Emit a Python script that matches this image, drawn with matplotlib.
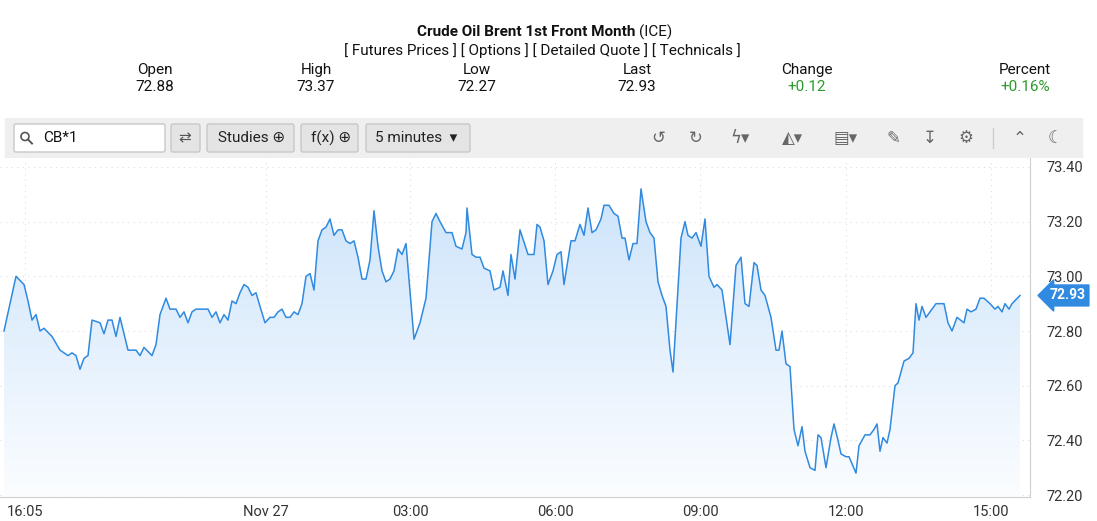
import matplotlib
matplotlib.use("Agg")
import matplotlib.pyplot as plt
import numpy as np
from matplotlib.patches import FancyBboxPatch, Polygon, Circle

title_bold = "Crude Oil Brent 1st Front Month"
links = "[ Futures Prices ] [ Options ] [ Detailed Quote ] [ Technicals ]"
stat_labels = ["Open", "High", "Low", "Last", "Change", "Percent"]
stat_values = ["72.88", "73.37", "72.27", "72.93", "+0.12", "+0.16%"]

xpos = [4,16,24,28,32,36,40,44,52,60,68,72,76,80,84,88,92,100,104,108,112,116,120,128,136,140,144,152,156,160,166,170,176,180,184,188,192,196,200,208,212,216,220,224,228,232,236,240,244,248,252,256,260,265,270,274,278,282,286,290,294,298,302,306,310,314,318,322,326,330,334,338,342,346,350,354,358,362,366,370,374,378,382,386,390,394,398,402,406,414,420,426,432,436,440,446,452,456,462,466,467,472,476,480,484,490,494,
        500,503,508,511,515,520,528,531,534,537,540,544,548,553,557,561,564,571,575,580,584,588,592,596,601,604,609,614,618,622,625,629,633,637,641,646,650,654,658,662,666,670,673,678,681,685,688,692,696,701,705,709,714,717,722,726,730,736,741,745,749,754,757,761,765,771,776,779,782,786,790,794,798,802,805,810,815,818,821,826,831,834,838,841,846,849,856,859,865,870,874,877,880,883,887,890,895,898,904,909,913,916,919,922,926,936,941,944,948,952,957,964,967,971,976,980,984,990,995,998,1002,1005,1009,1012,1020]
price = [72.80,73.00,72.97,72.91,72.84,72.86,72.80,72.81,72.78,72.73,72.71,72.72,72.71,72.66,72.70,72.71,72.84,72.83,72.79,72.84,72.84,72.78,72.85,72.73,72.73,72.71,72.74,72.71,72.75,72.86,72.92,72.88,72.88,72.85,72.87,72.83,72.87,72.88,72.88,72.88,72.85,72.87,72.83,72.86,72.84,72.91,72.90,72.94,72.97,72.96,72.93,72.94,72.89,72.83,72.85,72.85,72.87,72.88,72.85,72.85,72.87,72.86,72.90,73.00,73.01,72.95,73.13,73.17,73.18,73.21,73.15,73.17,73.17,73.13,73.12,73.13,73.07,72.99,72.99,73.06,73.24,73.11,73.02,72.98,72.99,73.02,73.10,73.08,73.12,72.77,72.83,72.92,73.20,73.23,73.20,73.16,73.16,73.11,73.10,73.16,73.25,73.08,73.07,73.07,73.03,73.02,72.95,
         72.96,73.02,72.93,73.08,72.99,73.17,73.08,73.08,73.08,73.19,73.18,73.13,72.97,73.02,73.08,73.09,72.97,73.13,73.13,73.19,73.15,73.25,73.16,73.17,73.21,73.26,73.26,73.23,73.22,73.14,73.14,73.06,73.12,73.12,73.32,73.20,73.16,73.14,72.98,72.93,72.89,72.73,72.65,72.96,73.14,73.20,73.15,73.14,73.16,73.11,73.21,73.00,72.96,72.97,72.95,72.85,72.75,73.04,73.07,72.90,72.89,73.05,73.04,72.95,72.93,72.85,72.73,72.73,72.80,72.68,72.67,72.44,72.38,72.45,72.36,72.30,72.29,72.42,72.41,72.30,72.41,72.46,72.40,72.35,72.34,72.34,72.28,72.38,72.42,72.42,72.44,72.46,72.36,72.41,72.39,72.44,72.60,72.61,72.69,72.70,72.72,72.90,72.84,72.89,72.85,72.90,72.90,72.90,72.83,72.80,72.85,72.83,72.88,72.87,72.88,72.92,72.92,72.90,72.88,72.89,72.87,72.90,72.88,72.90,72.93]
xtick_pos = [25, 266, 410, 555, 700, 846, 991]
xtick_labels = ["16:05", "Nov 27", "03:00", "06:00", "09:00", "12:00", "15:00"]
yticks = [72.20, 72.40, 72.60, 72.80, 73.00, 73.20, 73.40]
last_price = 72.93

W, H = 1097, 521
fig = plt.figure(figsize=(W/100, H/100), dpi=100)
plt.rcParams['font.family'] = ['Roboto', 'DejaVu Sans']

def fx(px): return px / W
def fy(py): return 1 - py / H

# Header
fig.text(fx(635), fy(32), title_bold, ha='right', va='center', fontsize=11, fontweight='bold', color='#111')
fig.text(fx(639), fy(32), "(ICE)", ha='left', va='center', fontsize=11, color='#111')
fig.text(fx(542), fy(51), links, ha='center', va='center', fontsize=11, color='#111')
col_x = [155, 316, 477, 637, 807, 1025]
for i, (lab, val) in enumerate(zip(stat_labels, stat_values)):
    fig.text(fx(col_x[i]), fy(70), lab, ha='center', va='center', fontsize=11, color='#111')
    c = '#2a9b2a' if i >= 4 else '#111'
    fig.text(fx(col_x[i]), fy(87), val, ha='center', va='center', fontsize=11, color=c)

# Toolbar
bg = fig.add_axes([0, fy(158), 1, (158-118)/H])
bg.set_xlim(0, W); bg.set_ylim(158, 118); bg.axis('off')
bg.add_patch(plt.Rectangle((5, 118), 1077, 40, color='#efefef'))
def button(x0, x1, white=False):
    bg.add_patch(FancyBboxPatch((x0, 124), x1-x0, 28, boxstyle='round,pad=0,rounding_size=2',
                                fc='white' if white else '#e4e4e4', ec='#c8c8c8', lw=1))
button(14, 165, True)
bg.text(43, 138, "CB*1", va='center', fontsize=11, color='#111')
bg.add_patch(Circle((25, 136.5), 4, fill=False, ec='#555', lw=1.2))
bg.plot([28, 32], [139.5, 143.5], color='#555', lw=1.4)
button(171, 200)
bg.text(185, 138, "⇄", ha='center', va='center', fontsize=11, color='#555', family=['DejaVu Sans'])
button(207, 294)
bg.text(218, 138, "Studies ⊕", va='center', fontsize=11, color='#222')
button(301, 358)
bg.text(311, 138, "f(x) ⊕", va='center', fontsize=11, color='#222')
button(366, 470)
bg.text(375, 138, "5 minutes  ▾", va='center', fontsize=11, color='#222')
for xi, s in zip([658, 696, 740, 793, 846, 893, 929, 966, 1020, 1055],
                 ["↺", "↻", "ϟ▾", "◭▾", "▤▾", "✎", "↧", "⚙", "⌃", "☾"]):
    bg.text(xi, 138, s, ha='center', va='center', fontsize=12, color='#666', family=['DejaVu Sans'])
bg.plot([993, 993], [128, 148], color='#ccc', lw=1)

# Chart
ax_top, ax_bot, ax_right = 158, 497, 1030
ax = fig.add_axes([0, fy(ax_bot), fx(ax_right), (ax_bot-ax_top)/H])
ytop = 73.40 + (167-ax_top)*1.2/328
ybot = 72.20 - (ax_bot-495)*1.2/328
ax.set_xlim(0, ax_right); ax.set_ylim(ybot, ytop)
for y in yticks:
    ax.axhline(y, color='#dcdcdc', lw=0.8, ls=(0, (1, 4)), zorder=0)
for x in xtick_pos:
    ax.axvline(x, color='#dcdcdc', lw=0.8, ls=(0, (1, 4)), zorder=0)

grad = np.linspace(0, 1, 256).reshape(-1, 1)
from matplotlib.colors import LinearSegmentedColormap
cmap = LinearSegmentedColormap.from_list('g', ['#fbfdff', '#cde4fb'])
im = ax.imshow(grad, cmap=cmap, aspect='auto', origin='lower',
               extent=[0, ax_right, ybot, max(price)], zorder=1)
poly = Polygon(list(zip([xpos[0]] + xpos + [xpos[-1]], [ybot] + price + [ybot])),
               closed=True, fc='none', ec='none')
ax.add_patch(poly)
im.set_clip_path(poly)
ax.plot(xpos, price, color='#2f8ae0', lw=1.1, zorder=3)

ax.set_xticks(xtick_pos); ax.set_xticklabels(xtick_labels)
ax.set_yticks(yticks); ax.set_yticklabels([f"{v:.2f}" for v in yticks])
ax.yaxis.tick_right()
ax.tick_params(axis='both', length=0, labelsize=10.5, colors='#333', pad=6)
ax.tick_params(axis='y', pad=12)
for s in ['top', 'left']:
    ax.spines[s].set_visible(False)
ax.spines['right'].set_color('#cfcfcf'); ax.spines['bottom'].set_color('#cfcfcf')
ax.set_facecolor('none')

ax.annotate(f"{last_price:.2f}", xy=(1.0, last_price), xycoords=('axes fraction', 'data'),
            xytext=(14, 0), textcoords='offset points', ha='left', va='center',
            fontsize=10, fontweight='bold', color='white',
            bbox=dict(boxstyle='larrow,pad=0.25', fc='#2f8ae0', ec='#2f8ae0'),
            annotation_clip=False)

fig.savefig("out.png", dpi=100)
